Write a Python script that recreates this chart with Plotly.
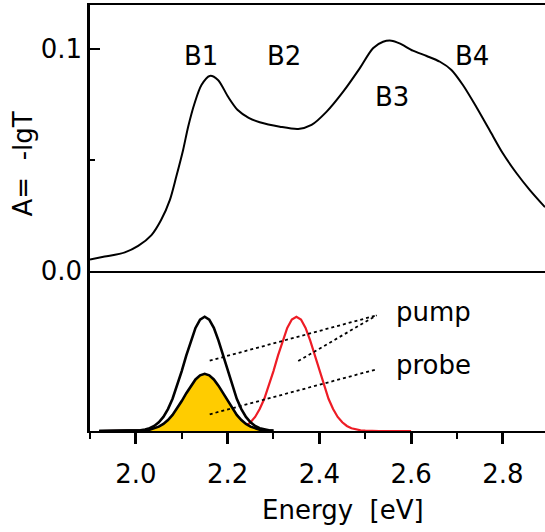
import plotly.graph_objects as go

# ---------------- data ----------------
# top panel: absorbance spectrum A = -lgT vs energy (eV)
abs_energy = [1.900, 1.932, 1.976, 2.005, 2.034, 2.055, 2.074, 2.088, 2.103, 2.114,
              2.128, 2.143, 2.161, 2.179, 2.201, 2.222, 2.246, 2.270, 2.314, 2.354,
              2.383, 2.416, 2.452, 2.488, 2.517, 2.539, 2.557, 2.575, 2.604, 2.634,
              2.663, 2.688, 2.713, 2.742, 2.771, 2.800, 2.830, 2.859, 2.892]
abs_value = [0.0052, 0.0065, 0.0084, 0.0113, 0.0162, 0.0230, 0.0320, 0.0425, 0.0546, 0.0651,
             0.0757, 0.0839, 0.0880, 0.0862, 0.0786, 0.0726, 0.0691, 0.0671, 0.0651, 0.0641,
             0.0659, 0.0719, 0.0809, 0.0914, 0.1005, 0.1034, 0.1039, 0.1027, 0.0994, 0.0970,
             0.0944, 0.0907, 0.0839, 0.0741, 0.0636, 0.0531, 0.0441, 0.0365, 0.0288]

# bottom panel: pulse spectra (arb. units)
pulse_energy = [1.92, 1.93, 1.94, 1.95, 1.96, 1.97, 1.98, 1.99, 2.00, 2.01,
                2.02, 2.03, 2.04, 2.05, 2.06, 2.07, 2.08, 2.09, 2.10, 2.11,
                2.12, 2.13, 2.14, 2.15, 2.16, 2.17, 2.18, 2.19, 2.20, 2.21,
                2.22, 2.23, 2.24, 2.25, 2.26, 2.27, 2.28, 2.29, 2.30]
pump1_value = [0.000, 0.000, 0.000, 0.000, 0.000, 0.000, 0.001, 0.001, 0.003, 0.006,
               0.013, 0.024, 0.044, 0.076, 0.123, 0.192, 0.282, 0.395, 0.524, 0.662,
               0.793, 0.902, 0.975, 1.000, 0.975, 0.902, 0.793, 0.662, 0.524, 0.395,
               0.282, 0.192, 0.123, 0.076, 0.044, 0.024, 0.013, 0.006, 0.003]
probe_value = [0.000, 0.000, 0.000, 0.000, 0.000, 0.000, 0.000, 0.001, 0.002, 0.003,
               0.006, 0.012, 0.022, 0.038, 0.062, 0.096, 0.141, 0.198, 0.262, 0.331,
               0.397, 0.451, 0.487, 0.500, 0.487, 0.451, 0.397, 0.331, 0.262, 0.198,
               0.141, 0.096, 0.062, 0.038, 0.022, 0.012, 0.006, 0.003, 0.002]

pump2_energy = [1.92, 2.10, 2.17, 2.18, 2.19, 2.20, 2.21, 2.22, 2.23, 2.24,
                2.25, 2.26, 2.27, 2.28, 2.29, 2.30, 2.31, 2.32, 2.33, 2.34,
                2.35, 2.36, 2.37, 2.38, 2.39, 2.40, 2.41, 2.42, 2.43, 2.44,
                2.45, 2.46, 2.47, 2.48, 2.49, 2.50, 2.51, 2.52, 2.53, 2.60]
pump2_value = [0.000, 0.000, 0.000, 0.001, 0.001, 0.003, 0.006, 0.013, 0.024, 0.044,
               0.076, 0.123, 0.192, 0.282, 0.395, 0.524, 0.662, 0.793, 0.902, 0.975,
               1.000, 0.975, 0.902, 0.793, 0.662, 0.524, 0.395, 0.282, 0.192, 0.123,
               0.076, 0.044, 0.024, 0.013, 0.006, 0.003, 0.001, 0.001, 0.000, 0.000]

# leader lines (dotted) from labels to curves
pump_lead1_x = [2.161, 2.525]
pump_lead1_y = [0.615, 1.012]
pump_lead2_x = [2.354, 2.525]
pump_lead2_y = [0.612, 1.012]
probe_lead_x = [2.161, 2.525]
probe_lead_y = [0.146, 0.540]

band_labels = ["B1", "B2", "B3", "B4"]
band_x = [2.143, 2.324, 2.558, 2.732]
band_y = [0.0971, 0.0971, 0.0786, 0.0971]

x_range = [1.9, 2.892]
FONT = "DejaVu Sans"
FS = 26

fig = go.Figure()

# top panel
fig.add_trace(go.Scatter(x=abs_energy, y=abs_value, mode="lines",
                         line=dict(color="black", width=2, shape="spline", smoothing=0.8),
                         xaxis="x2", yaxis="y2", showlegend=False, hoverinfo="skip"))

# bottom panel
fig.add_trace(go.Scatter(x=pump2_energy, y=pump2_value, mode="lines",
                         line=dict(color="#EE1C25", width=2.2),
                         xaxis="x", yaxis="y", showlegend=False, hoverinfo="skip"))
fig.add_trace(go.Scatter(x=pulse_energy, y=probe_value, mode="lines", fill="tozeroy",
                         fillcolor="#FFCC00",
                         line=dict(color="black", width=2.6),
                         xaxis="x", yaxis="y", showlegend=False, hoverinfo="skip"))
fig.add_trace(go.Scatter(x=pulse_energy, y=pump1_value, mode="lines",
                         line=dict(color="black", width=2.6),
                         xaxis="x", yaxis="y", showlegend=False, hoverinfo="skip"))
for lx, ly in [(pump_lead1_x, pump_lead1_y), (pump_lead2_x, pump_lead2_y),
               (probe_lead_x, probe_lead_y)]:
    fig.add_trace(go.Scatter(x=lx, y=ly, mode="lines",
                             line=dict(color="black", width=1.8, dash="dot"),
                             xaxis="x", yaxis="y", showlegend=False, hoverinfo="skip"))

annotations = []
for t, bx, by in zip(band_labels, band_x, band_y):
    annotations.append(dict(text=t, x=bx, y=by, xref="x2", yref="y2", showarrow=False,
                            xanchor="center", yanchor="middle",
                            font=dict(family=FONT, size=FS, color="black")))
annotations.append(dict(text="pump", x=2.562, y=1.044, xref="x", yref="y", showarrow=False,
                        xanchor="left", yanchor="middle",
                        font=dict(family=FONT, size=FS, color="black")))
annotations.append(dict(text="probe", x=2.562, y=0.577, xref="x", yref="y", showarrow=False,
                        xanchor="left", yanchor="middle",
                        font=dict(family=FONT, size=FS, color="black")))
annotations.append(dict(text="A=\u00a0\u00a0-lgT", x=-0.1462, y=0.6268, xref="paper", yref="paper",
                        showarrow=False, textangle=-90, xanchor="center", yanchor="middle",
                        font=dict(family=FONT, size=FS, color="black")))
annotations.append(dict(text="Energy\u00a0\u00a0[eV]", x=0.555, y=-0.1854, xref="paper", yref="paper",
                        showarrow=False, xanchor="center", yanchor="middle",
                        font=dict(family=FONT, size=FS, color="black")))

split = 160 / 426

fig.update_layout(
    width=545, height=532,
    margin=dict(l=90, r=0, t=5, b=101, pad=0),
    paper_bgcolor="white", plot_bgcolor="white",
    font=dict(family=FONT, size=FS, color="black"),
    showlegend=False,
    annotations=annotations,
    xaxis=dict(domain=[0, 1], anchor="y", range=x_range, showgrid=False, zeroline=False,
               showline=True, linecolor="black", linewidth=2,
               ticks="outside", ticklen=11, tickwidth=2.5, tickcolor="black",
               tick0=2.0, dtick=0.2, tickformat=".1f",
               tickfont=dict(family=FONT, size=FS, color="black"),
               ticklabelstandoff=8,
               minor=dict(ticks="outside", ticklen=6, tickwidth=2, tickcolor="black",
                          tick0=1.9, dtick=0.1)),
    yaxis=dict(domain=[0, split], anchor="x", range=[0, 1.4], showgrid=False, zeroline=False,
               showline=True, linecolor="black", linewidth=2.5,
               ticks="", showticklabels=False),
    xaxis2=dict(domain=[0, 1], anchor="y2", range=x_range, matches="x", showgrid=False,
                zeroline=False, showline=True, mirror=True, linecolor="black", linewidth=2,
                ticks="", showticklabels=False),
    yaxis2=dict(domain=[split, 1], anchor="x2", range=[0, 0.12], showgrid=False, zeroline=False,
                showline=True, linecolor="black", linewidth=2.5,
                ticks="inside", ticklen=10, tickwidth=2, tickcolor="black",
                tickvals=[0.0, 0.1], ticktext=["0.0", "0.1"],
                tickfont=dict(family=FONT, size=FS, color="black"),
                ticklabelstandoff=0,
                minor=dict(ticks="inside", ticklen=5, tickwidth=2, tickcolor="black",
                           tickvals=[0.05])),
)

fig.write_html("out.html", config={"displayModeBar": False},
               post_script="document.body.style.margin='0';document.body.style.overflow='hidden';")
